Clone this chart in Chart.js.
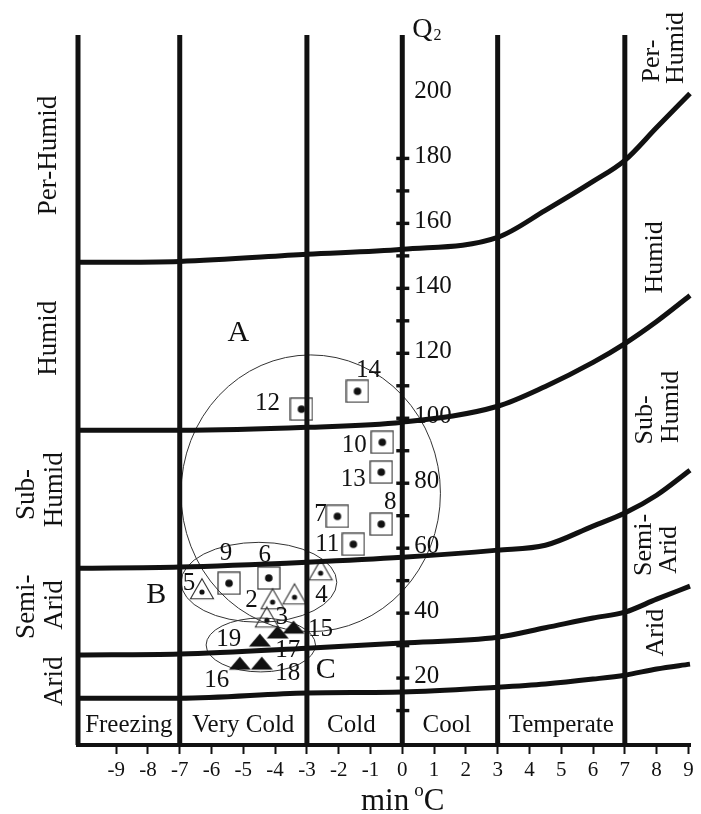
<!DOCTYPE html>
<html>
<head>
<meta charset="utf-8">
<script src="https://cdn.jsdelivr.net/npm/chart.js"></script>
<style>
  html, body { margin: 0; padding: 0; background: #fff; }
  #wrap { width: 701px; height: 814px; }
</style>
</head>
<body>
<div id="wrap"><canvas id="chart"></canvas></div>
<script>
  // Emberger climagram: min temperature of coldest month vs Q2
  const tMin = -10.2, tMax = 9.05;
  const qMin = -0.6, qMax = 218;

  const zoneBounds = [-7, -3, 0, 3, 7];
  const zoneNames = ['Freezing', 'Very Cold', 'Cold', 'Cool', 'Temperate'];
  const zoneCenters = [-8.6, -5, -1.6, 1.4, 5];

  const xTicks = [-9, -8, -7, -6, -5, -4, -3, -2, -1, 0, 1, 2, 3, 4, 5, 6, 7, 8, 9];
  const q2Ticks = [10, 20, 30, 40, 50, 60, 70, 80, 90, 100, 110, 120, 130, 140, 150, 160, 170, 180];
  const q2Labels = [20, 40, 60, 80, 100, 120, 140, 160, 180, 200];

  // bioclimatic boundary curves
  const curveT = [-10.2, -7, -3, 0, 3, 4.5, 6, 7, 8, 9.05];
  const aridLow = [13.8, 13.8, 15.4, 15.7, 17.2, 18.2, 19.7, 20.9, 22.8, 24.3];
  const aridSemi = [27.1, 27.4, 29.2, 30.8, 32.6, 35.5, 38.5, 40.3, 44.3, 48.3];
  const semiSub = [53.8, 54.2, 55.7, 57.2, 59.4, 60.9, 66.8, 70.8, 76.3, 84];
  const subHumid = [96.3, 96.3, 97.2, 98.8, 103.7, 109.8, 117.2, 123, 129.8, 137.8];
  const humidPer = [148, 148.3, 150.5, 152, 155.7, 164, 172.9, 179.4, 189.5, 200];

  // stations
  const squareIds = ['12', '14', '10', '13', '8', '7', '11', '9', '6'];
  const squareT = [-3.17, -1.41, -0.63, -0.66, -0.66, -2.04, -1.54, -5.45, -4.2];
  const squareQ = [102.8, 108.3, 92.6, 83.4, 67.4, 69.8, 61.2, 49.2, 50.8];

  const openIds = ['5', '2', '', '4', '3'];
  const openT = [-6.3, -4.08, -3.39, -2.57, -4.26];
  const openQ = [46.5, 43.4, 44.9, 52.3, 37.8];

  const solidIds = ['19', '17', '15', '16', '18'];
  const solidT = [-4.48, -3.92, -3.42, -5.11, -4.42];
  const solidQ = [31.7, 34.2, 35.7, 24.6, 24.6];

  // groups A, B, C (centre T, centre Q, radius T, radius Q)
  const groupNames = ['A', 'B', 'C'];
  const groupT = [-2.88, -4.51, -4.45];
  const groupQ = [76.9, 49.5, 30.2];
  const groupRT = [4.08, 2.45, 1.72];
  const groupRQ = [42.6, 12.3, 8.3];
  const groupLabelT = [-5.16, -7.74, -2.41];
  const groupLabelQ = [126.2, 45.5, 22.5];

  // label offsets in px (layout only)
  const squareOff = [[-34, -6], [11, -21], [-28, 3], [-28, 7], [9, -22], [-17, -2], [-26, 0], [-3, -30], [-4, -23]];
  const openOff = [[-13, -9], [-21, -2], [0, 0], [1, 22], [15, -3]];
  const solidOff = [[-31, -1], [10, 18], [27, 2], [-23, 17], [26, 10]];

  const ink = '#111';
  const serif = "'Liberation Serif', 'Times New Roman', serif";

  function pts(xs, ys) { return xs.map((x, i) => ({ x: x, y: ys[i] })); }

  function makeImg(w, h, paint) {
    const c = document.createElement('canvas');
    c.width = w; c.height = h;
    paint(c.getContext('2d'));
    return c;
  }
  const boxDot = makeImg(24, 24, g => {
    g.strokeStyle = '#333'; g.lineWidth = 1.2;
    g.strokeRect(1, 1, 22, 22);
    g.fillStyle = ink; g.beginPath(); g.arc(12, 12, 3.8, 0, Math.PI * 2); g.fill();
  });
  const triDot = makeImg(26, 30, g => {
    g.strokeStyle = '#333'; g.lineWidth = 1.1;
    g.beginPath(); g.moveTo(13, 1.7); g.lineTo(24.5, 21.7); g.lineTo(1.5, 21.7); g.closePath(); g.stroke();
    g.fillStyle = ink; g.beginPath(); g.arc(13, 15, 2.6, 0, Math.PI * 2); g.fill();
  });
  const triSolid = makeImg(24, 16, g => {
    g.fillStyle = ink;
    g.beginPath(); g.moveTo(12, 1.5); g.lineTo(23, 14.5); g.lineTo(1, 14.5); g.closePath(); g.fill();
  });

  const curveSet = ys => ({
    data: pts(curveT, ys), showLine: true, borderColor: ink, borderWidth: 5,
    pointRadius: 0, cubicInterpolationMode: 'monotone', clip: false
  });
  const vertSet = t => ({
    data: [{ x: t, y: qMin }, { x: t, y: qMax }], showLine: true, borderColor: ink,
    borderWidth: 5, pointRadius: 0, clip: false
  });
  const markSet = (xs, ys, img) => ({
    data: pts(xs, ys), pointStyle: img, pointRadius: 10, showLine: false
  });

  const datasets = [
    ...[tMin].concat(zoneBounds).map(vertSet),
    curveSet(aridLow), curveSet(aridSemi), curveSet(semiSub), curveSet(subHumid), curveSet(humidPer),
    markSet(squareT, squareQ, boxDot),
    markSet(openT, openQ, triDot),
    markSet(solidT, solidQ, triSolid)
  ];

  function vtext(ctx, text, x, y) {
    ctx.save();
    ctx.translate(x, y);
    ctx.rotate(-Math.PI / 2);
    ctx.textAlign = 'center';
    ctx.textBaseline = 'middle';
    ctx.fillText(text, 0, 0);
    ctx.restore();
  }

  const decor = {
    id: 'decor',
    beforeDatasetsDraw(chart) {
      const ctx = chart.ctx, xs = chart.scales.x, ys = chart.scales.y;
      ctx.save();
      ctx.strokeStyle = '#333';
      ctx.lineWidth = 1;
      groupT.forEach((t, i) => {
        const cx = xs.getPixelForValue(t), cy = ys.getPixelForValue(groupQ[i]);
        const rx = xs.getPixelForValue(t + groupRT[i]) - cx;
        const ry = cy - ys.getPixelForValue(groupQ[i] + groupRQ[i]);
        ctx.beginPath();
        ctx.ellipse(cx, cy, rx, ry, 0, 0, Math.PI * 2);
        ctx.stroke();
      });
      ctx.restore();
    },
    afterDraw(chart) {
      const ctx = chart.ctx, xs = chart.scales.x, ys = chart.scales.y, area = chart.chartArea;
      const x0 = xs.getPixelForValue(0);
      ctx.save();
      ctx.fillStyle = ink;

      // Q2 axis ticks and labels
      q2Ticks.forEach(v => {
        const y = ys.getPixelForValue(v);
        ctx.fillRect(x0 - 6, y - 1.7, 13, 3.4);
      });
      ctx.font = '25px ' + serif;
      ctx.textAlign = 'left';
      ctx.textBaseline = 'middle';
      q2Labels.forEach(v => ctx.fillText(String(v), x0 + 12, ys.getPixelForValue(v) - 2));

      // Q2 title
      ctx.textBaseline = 'alphabetic';
      ctx.font = '28px ' + serif;
      ctx.fillText('Q', x0 + 10, area.top + 2);
      const qw = ctx.measureText('Q').width;
      ctx.font = '16px ' + serif;
      ctx.fillText('2', x0 + 11 + qw, area.top + 5);

      // zone names
      ctx.font = '25px ' + serif;
      ctx.textAlign = 'center';
      ctx.textBaseline = 'middle';
      zoneNames.forEach((n, i) => ctx.fillText(n, xs.getPixelForValue(zoneCenters[i]), ys.getPixelForValue(5.5)));

      // station labels
      ctx.font = '25px ' + serif;
      const lab = (ids, tt, qq, off) => ids.forEach((id, i) => {
        if (!id) return;
        ctx.fillText(id, xs.getPixelForValue(tt[i]) + off[i][0], ys.getPixelForValue(qq[i]) + off[i][1]);
      });
      lab(squareIds, squareT, squareQ, squareOff);
      lab(openIds, openT, openQ, openOff);
      lab(solidIds, solidT, solidQ, solidOff);

      // group letters
      ctx.font = '30px ' + serif;
      groupNames.forEach((g, i) => ctx.fillText(g, xs.getPixelForValue(groupLabelT[i]), ys.getPixelForValue(groupLabelQ[i])));

      // humidity classes, left margin
      ctx.font = '27px ' + serif;
      const L = area.left;
      vtext(ctx, 'Per-Humid', L - 29, ys.getPixelForValue(180.9));
      vtext(ctx, 'Humid', L - 29, ys.getPixelForValue(124.6));
      vtext(ctx, 'Sub-', L - 51, ys.getPixelForValue(76.5));
      vtext(ctx, 'Humid', L - 23, ys.getPixelForValue(78));
      vtext(ctx, 'Semi-', L - 51, ys.getPixelForValue(42));
      vtext(ctx, 'Arid', L - 23, ys.getPixelForValue(42.5));
      vtext(ctx, 'Arid', L - 23, ys.getPixelForValue(19));

      // humidity classes, right side
      ctx.font = '26px ' + serif;
      vtext(ctx, 'Per-', xs.getPixelForValue(7.85), ys.getPixelForValue(210));
      vtext(ctx, 'Humid', xs.getPixelForValue(8.6), ys.getPixelForValue(214));
      vtext(ctx, 'Humid', xs.getPixelForValue(7.95), ys.getPixelForValue(149.5));
      vtext(ctx, 'Sub-', xs.getPixelForValue(7.65), ys.getPixelForValue(99.5));
      vtext(ctx, 'Humid', xs.getPixelForValue(8.45), ys.getPixelForValue(103.5));
      vtext(ctx, 'Semi-', xs.getPixelForValue(7.6), ys.getPixelForValue(61));
      vtext(ctx, 'Arid', xs.getPixelForValue(8.4), ys.getPixelForValue(59.5));
      vtext(ctx, 'Arid', xs.getPixelForValue(8.0), ys.getPixelForValue(34));

      // x-axis title  min oC
      ctx.textAlign = 'left';
      ctx.textBaseline = 'alphabetic';
      ctx.font = '31px ' + serif;
      let tx = 361;
      ctx.fillText('min', tx, 810);
      tx += ctx.measureText('min').width + 5;
      ctx.font = '19px ' + serif;
      ctx.fillText('o', tx, 796);
      tx += ctx.measureText('o').width;
      ctx.font = '31px ' + serif;
      ctx.fillText('C', tx, 810);
      ctx.restore();
    }
  };

  new Chart(document.getElementById('chart'), {
    type: 'scatter',
    data: { datasets: datasets },
    options: {
      responsive: true,
      maintainAspectRatio: false,
      animation: false,
      layout: { padding: { left: 78, right: 9, top: 35, bottom: 0 } },
      plugins: { legend: { display: false }, tooltip: { enabled: false } },
      scales: {
        x: {
          type: 'linear', min: tMin, max: tMax,
          afterBuildTicks: s => { s.ticks = xTicks.map(v => ({ value: v })); },
          afterFit: s => { s.height = 69; },
          grid: { display: true, drawOnChartArea: false, drawTicks: true, tickLength: 9, tickWidth: 2, tickColor: ink },
          border: { display: true, color: ink, width: 4 },
          ticks: { color: ink, font: { family: serif, size: 21 }, padding: 4, maxRotation: 0, autoSkip: false, callback: v => String(v) }
        },
        y: { type: 'linear', display: false, min: qMin, max: qMax }
      }
    },
    plugins: [decor]
  });
</script>
</body>
</html>
